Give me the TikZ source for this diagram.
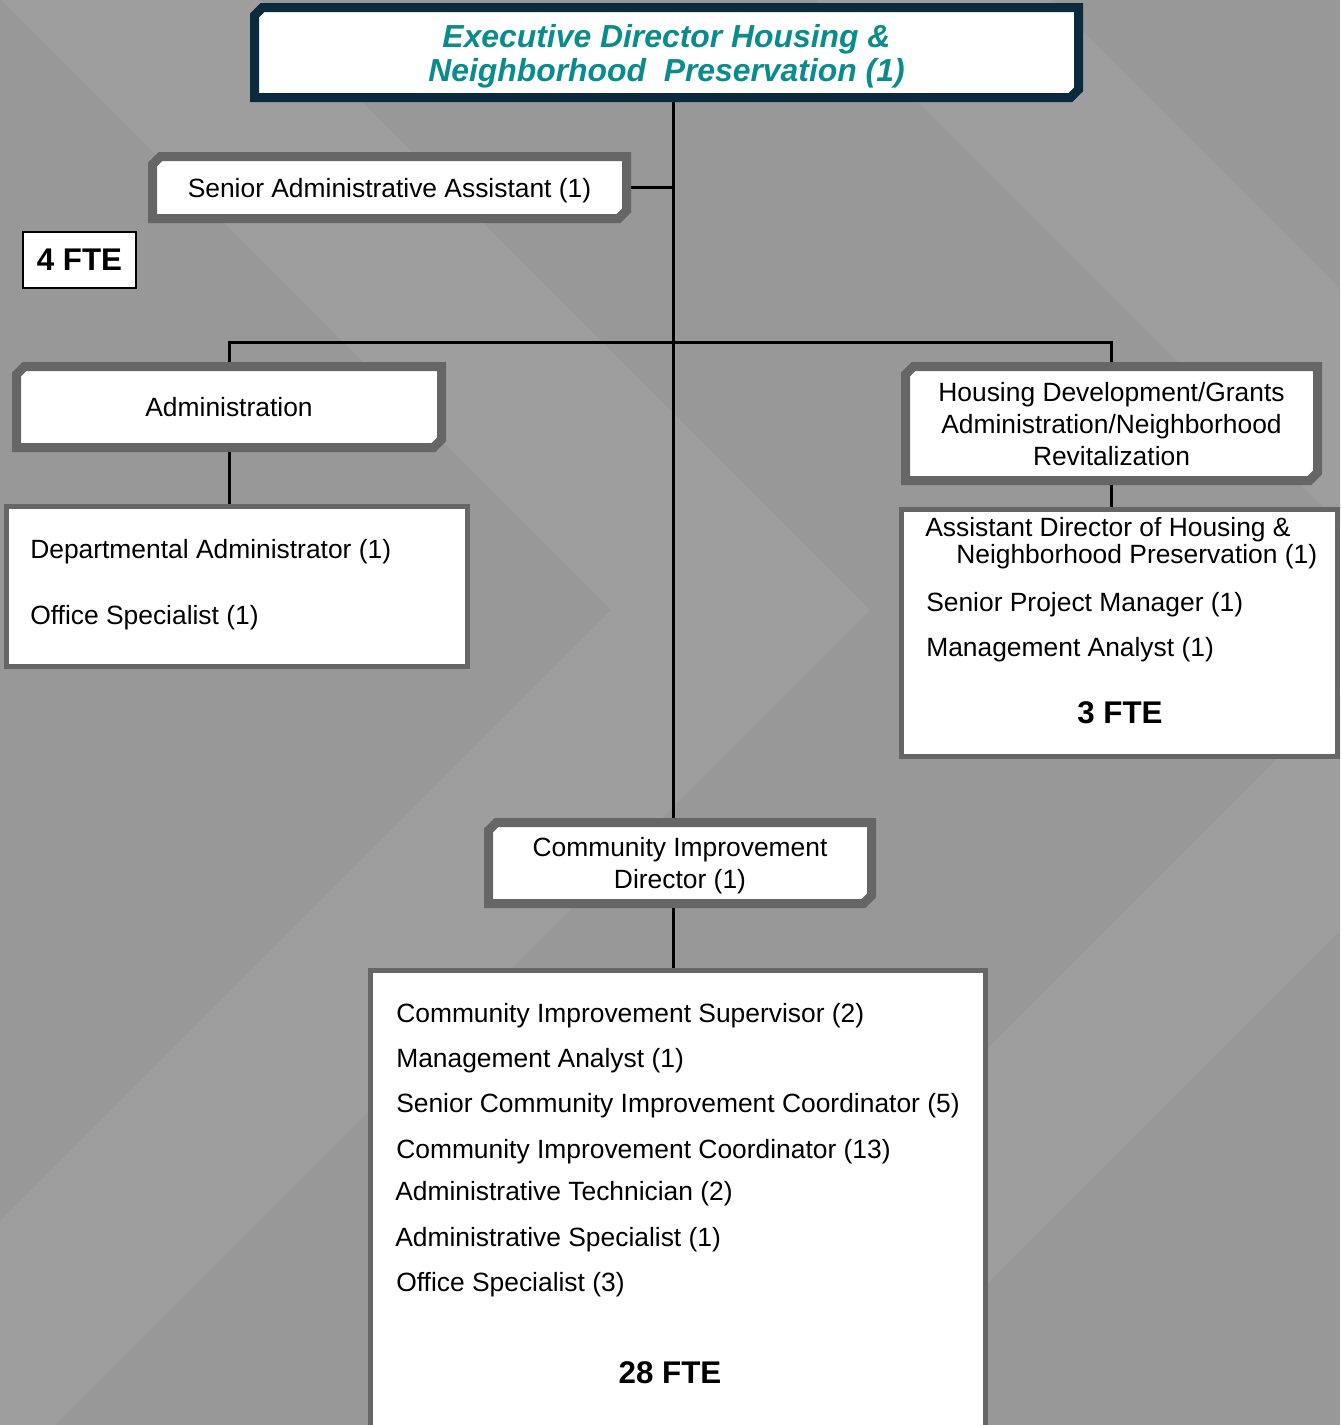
\documentclass[tikz,border=0pt]{standalone}
\usepackage{fontspec}
\setmainfont{Liberation Sans}
\usetikzlibrary{shapes.misc}
\definecolor{bgA}{HTML}{989898}
\definecolor{bgB}{HTML}{9E9E9E}
\definecolor{bordergray}{HTML}{666666}
\definecolor{navy}{HTML}{0B2A3B}
\definecolor{titleteal}{HTML}{0A8C8C}
\tikzset{
  unitbox/.style={draw=bordergray, fill=white, line width=6.75pt,
    chamfered rectangle, chamfered rectangle corners={north west,south east},
    chamfered rectangle xsep=3pt, chamfered rectangle ysep=3pt,
    inner sep=0pt, align=center, text depth=0pt, font=\fontsize{19.8}{24}\selectfont},
  listbox/.style={draw=bordergray, fill=white, line width=3.75pt, rectangle, inner sep=0pt},
  item/.style={anchor=base west, inner sep=0pt, font=\fontsize{19.8}{24}\selectfont},
  fte/.style={anchor=base, inner sep=0pt, font=\fontsize{23.5}{26}\selectfont\bfseries},
  conn/.style={draw=black, line width=2.25pt}
}
\begin{document}
\begin{tikzpicture}[x=0.75pt,y=-0.75pt]
\useasboundingbox (0,0) rectangle (1340,1425);
% background
\begin{scope}
\clip (0,0) rectangle (1340,1425);
\fill[bgA] (0,0) rectangle (1340,1425);
\fill[bgB] (1,0) -- (611,610) -- (-204,1425) -- (55,1425) -- (870,610) -- (260,0) -- cycle;
\fill[bgB] (816,0) -- (1426,610) -- (611,1425) -- (846,1425) -- (1661,610) -- (1051,0) -- cycle;
\end{scope}
% spine coordinate
\coordinate (sp) at (673,342);
% boxes
\node[unitbox, draw=navy, minimum width=618pt, minimum height=67.5pt,
  font=\fontsize{23.9}{25.5}\selectfont\bfseries\itshape, text=titleteal]
  (title) at (666.5,52.5) {Executive Director Housing \&\\Neighborhood~~Preservation (1)};
\node[unitbox, minimum width=355.5pt, minimum height=46.5pt] (senior) at (389.5,187.5)
  {Senior Administrative Assistant (1)};
\node[draw=black, fill=white, line width=1.5pt, minimum width=84.75pt, minimum height=42pt,
  inner sep=0pt, font=\fontsize{23.5}{26}\selectfont\bfseries] (fte4) at (79.5,260) {4 FTE};
\node[unitbox, minimum width=318.75pt, minimum height=60.75pt] (admin) at (229,407)
  {Administration};
\node[unitbox, minimum width=309pt, minimum height=85.5pt] (housing) at (1111.5,423.5)
  {Housing Development/Grants\\Administration/Neighborhood\\Revitalization};
\node[listbox, minimum width=345.75pt, minimum height=120pt] (dept) at (237,586.5) {};
\node[listbox, minimum width=327pt, minimum height=185.25pt] (asst) at (1119.5,633) {};
\node[unitbox, minimum width=287.25pt, minimum height=60.75pt] (cidir) at (680,863)
  {Community Improvement\\Director (1)};
\node[listbox, minimum width=461.25pt, minimum height=346.5pt] (bottom) at (678,1201.5) {};
% list texts
\node[item] (d1) at (30,558) {Departmental Administrator (1)};
\node[item] (d2) at (30,624) {Office Specialist (1)};
\node[item] (a1) at (925,536) {Assistant Director of Housing \&};
\node[item] (a2) at (956,563) {Neighborhood Preservation (1)};
\node[item] (a3) at (926,611) {Senior Project Manager (1)};
\node[item] (a4) at (926,656) {Management Analyst (1)};
\node[fte] (a5) at (1120,723) {3 FTE};
\node[item] (b1) at (396,1022) {Community Improvement Supervisor (2)};
\node[item] (b2) at (396,1067) {Management Analyst (1)};
\node[item] (b3) at (396,1112) {Senior Community Improvement Coordinator (5)};
\node[item] (b4) at (396,1158) {Community Improvement Coordinator (13)};
\node[item] (b5) at (395,1200) {Administrative Technician (2)};
\node[item] (b6) at (395,1246) {Administrative Specialist (1)};
\node[item] (b7) at (396,1291) {Office Specialist (3)};
\node[fte] (b8) at (670,1383) {28 FTE};
% connectors
\draw[conn] (title.south -| sp) -- (cidir.north -| sp);
\draw[conn] (senior.east) -- (senior.east -| sp);
\draw[conn] (admin.north) -- (admin.north |- sp) -- (housing.north |- sp) -- (housing.north);
\draw[conn] (admin.south) -- (admin.south |- dept.north);
\draw[conn] (housing.south) -- (housing.south |- asst.north);
\draw[conn] (cidir.south -| sp) -- (bottom.north -| sp);
\end{tikzpicture}
\end{document}
